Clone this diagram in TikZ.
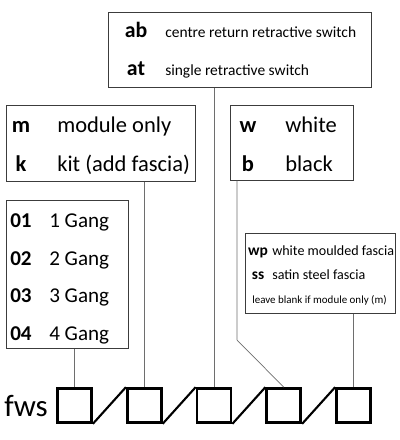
\documentclass[tikz,border=0pt]{standalone}
\usepackage{fontspec}
\setmainfont{Carlito}
\definecolor{boxgray}{HTML}{3C3C3C}
\definecolor{linegray}{HTML}{6E6E6E}
\begin{document}
\begin{tikzpicture}[x=0.025cm,y=-0.025cm]
\tikzstyle{every node}=[inner sep=0pt]
\tikzstyle{box}=[draw=boxgray,line width=0.7pt,rectangle]
\tikzstyle{sq}=[draw=black,line width=1.9pt,rectangle,minimum size=0.85cm]
\tikzstyle{link}=[black,line width=1.5pt]
\tikzstyle{conn}=[linegray,line width=0.7pt]
\tikzstyle{topcode}=[font=\fontsize{15.5}{18}\selectfont\bfseries,anchor=base]
\tikzstyle{toptext}=[font=\fontsize{11}{13}\selectfont,anchor=base west]
\tikzstyle{bigcode}=[font=\fontsize{16}{19}\selectfont\bfseries,anchor=base]
\tikzstyle{bigtext}=[font=\fontsize{16}{19}\selectfont,anchor=base west]
\tikzstyle{gangcode}=[font=\fontsize{15}{18}\selectfont\bfseries,anchor=base west]
\tikzstyle{gangtext}=[font=\fontsize{15}{18}\selectfont,anchor=base west]
\tikzstyle{smallcode}=[font=\fontsize{11}{13}\selectfont\bfseries,anchor=base]
\tikzstyle{smalltext}=[font=\fontsize{10}{12}\selectfont,anchor=base west]
\useasboundingbox (0,0) rectangle (400,440);
% option boxes
\node[box,minimum width=6.55cm,minimum height=1.85cm] at (240,50) (topbox) {};
\node[box,minimum width=4.7cm,minimum height=1.875cm] at (101,143.5) (kitbox) {};
\node[box,minimum width=3.05cm,minimum height=1.85cm] at (292,143) (colbox) {};
\node[box,minimum width=3.025cm,minimum height=3.675cm] at (67.5,274.5) (gangbox) {};
\node[box,minimum width=3.725cm,minimum height=1.975cm] at (320.5,273.5) (fasbox) {};
% switch type
\node[topcode] at (136,38) (codeab) {ab};
\node[toptext] at (165,38) (textab) {centre return retractive switch};
\node[topcode] at (136,76) (codeat) {at};
\node[toptext] at (165,76) (textat) {single retractive switch};
% module or kit
\node[bigcode] at (21,132.7) (codem) {m};
\node[bigtext] at (57,132.7) (textm) {module only};
\node[bigcode] at (21,171) (codek) {k};
\node[bigtext] at (57,171) (textk) {kit (add fascia)};
% colour
\node[bigcode] at (248,132.7) (codew) {w};
\node[bigtext] at (285,132.7) (textw) {white};
\node[bigcode] at (248,171) (codeb) {b};
\node[bigtext] at (285,171) (textb) {black};
% gangs
\foreach \g in {1,...,4}
{
  \node[gangcode] at (10,{227.5+37.5*(\g-1)}) (gang\g) {0\g};
  \node[gangtext] at (49,{227.5+37.5*(\g-1)}) (gangtext\g) {\g{} Gang};
}
% fascia
\node[smallcode] at (258,255.7) (codewp) {wp};
\node[smalltext] at (272,255.7) (textwp) {white moulded fascia};
\node[smallcode] at (258,279.3) (codess) {ss};
\node[smalltext] at (272,279.3) (textss) {satin steel fascia};
\node[font=\fontsize{7.8}{9}\selectfont,anchor=base west] at (252,303.3) (blank) {leave blank if module only (m)};
% product code
\node[font=\fontsize{22}{26}\selectfont,anchor=base west] at (4,416.7) (fws) {fws};
\foreach \i in {1,...,5}
  \node[sq] at ({74.5+69.75*(\i-1)},405.5) (sq\i) {};
\foreach \i/\j in {1/2,2/3,3/4,4/5}
  \draw[link] (sq\i.south east) -- (sq\j.north west);
\draw[conn] (sq1.north) -- (sq1.north |- gangbox.south)
  (sq2.north) -- (sq2.north |- kitbox.south)
  (sq3.north) -- (sq3.north |- topbox.south)
  (sq5.north) -- (sq5.north |- fasbox.south);
\coordinate (bend) at (237,340);
\draw[conn,line width=0.5pt] (bend |- colbox.south) -- (bend) -- (sq4.north);
\end{tikzpicture}
\end{document}
